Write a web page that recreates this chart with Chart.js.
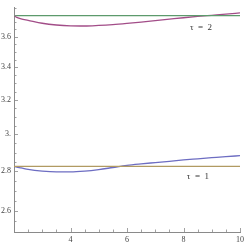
<!DOCTYPE html>
<html>
<head>
<meta charset="utf-8">
<script src="https://cdn.jsdelivr.net/npm/chart.js@4/dist/chart.umd.min.js"></script>
<style>
html,body{margin:0;padding:0;background:#fff;}
#wrap{width:247px;height:245px;position:relative;}
</style>
</head>
<body>
<div id="wrap"><canvas id="c" width="247" height="245"></canvas></div>
<script>
// ---- data ----
const xGrid     = [2, 2.1, 2.25, 2.5, 3, 3.5, 4, 4.5, 5, 5.5, 6, 6.5, 7, 7.5, 8, 8.5, 9, 9.5, 10];
const tau2Curve = [3.745, 3.733, 3.722, 3.712, 3.692, 3.680, 3.674, 3.673, 3.677, 3.683, 3.691, 3.700, 3.710, 3.720, 3.730, 3.739, 3.747, 3.755, 3.764];
const tau1Curve = [2.826, 2.822, 2.818, 2.810, 2.801, 2.797, 2.797, 2.801, 2.809, 2.820, 2.831, 2.839, 2.846, 2.853, 2.860, 2.866, 2.872, 2.878, 2.883];
const tau2Level = 3.745;
const tau1Level = 2.826;
const yMajorTicks = [2.6, 2.8, 3, 3.2, 3.4, 3.6];
const yMajorLabels = ["2.6", "2.8", "3.", "3.2", "3.4", "3.6"];
const xMajorTicks = [4, 6, 8, 10];
const xMajorLabels = ["4", "6", "8", "10"];
const curveLabels = [
  {text: "τ  =  2", x: 8.62, y: 3.665},
  {text: "τ  =  1", x: 8.51, y: 2.772}
];

const pts = (ys) => xGrid.map((x, i) => ({x: x, y: ys[i]}));
const flat = (v) => [{x: 2, y: v}, {x: 10, y: v}];

const axisColor = '#8a8a8a';
const labelFont = {family: '"Liberation Serif", "DejaVu Serif", serif', size: 8};

const tickPlugin = {
  id: 'innerTicks',
  afterDatasetsDraw(chart) {
    const ctx = chart.ctx;
    const xs = chart.scales.x, ys = chart.scales.y;
    const area = chart.chartArea;
    ctx.save();
    ctx.strokeStyle = axisColor;
    ctx.lineWidth = 0.8;
    xs.ticks.forEach(t => {
      const px = Math.round(xs.getPixelForValue(t.value)) + 0.5;
      const len = xMajorTicks.includes(t.value) ? 4 : 2.5;
      ctx.beginPath();
      ctx.moveTo(px, area.bottom);
      ctx.lineTo(px, area.bottom - len);
      ctx.stroke();
    });
    ys.ticks.forEach(t => {
      const py = Math.round(ys.getPixelForValue(t.value)) + 0.5;
      const len = yMajorTicks.some(v => Math.abs(v - t.value) < 1e-9) ? 4 : 2.5;
      ctx.beginPath();
      ctx.moveTo(area.left, py);
      ctx.lineTo(area.left + len, py);
      ctx.stroke();
    });
    // curve labels
    ctx.fillStyle = '#333';
    ctx.font = '9px "Liberation Serif", "DejaVu Serif", serif';
    ctx.textAlign = 'center';
    ctx.textBaseline = 'middle';
    curveLabels.forEach(l => {
      ctx.fillText(l.text, xs.getPixelForValue(l.x), ys.getPixelForValue(l.y));
    });
    ctx.restore();
  }
};

const lineDs = (data, color) => ({
  data: data, borderColor: color, borderWidth: 1.3, pointRadius: 0,
  fill: false, tension: 0.4, cubicInterpolationMode: 'monotone'
});

new Chart(document.getElementById('c'), {
  type: 'line',
  data: {
    datasets: [
      lineDs(flat(tau2Level), '#5c9a6c'),
      lineDs(pts(tau2Curve), '#a24d88'),
      lineDs(flat(tau1Level), '#b19a62'),
      lineDs(pts(tau1Curve), '#6d6dc2')
    ]
  },
  options: {
    responsive: false,
    animation: false,
    events: [],
    layout: {padding: {left: 0, right: 7, top: 0, bottom: 0}},
    plugins: {legend: {display: false}, tooltip: {enabled: false}},
    scales: {
      x: {
        type: 'linear', min: 2, max: 10,
        afterBuildTicks(scale) {
          const t = [];
          for (let v = 2; v <= 10.001; v += 0.5) t.push({value: Math.round(v * 10) / 10});
          scale.ticks = t;
        },
        afterFit(scale) { scale.height = 13; },
        grid: {display: false, drawTicks: false},
        border: {display: true, color: axisColor, width: 1},
        ticks: {
          autoSkip: false, maxRotation: 0, padding: 3, color: '#444', font: labelFont,
          callback(value) {
            const i = xMajorTicks.indexOf(value);
            return i >= 0 ? xMajorLabels[i] : '';
          }
        }
      },
      y: {
        type: 'logarithmic', min: 2.5, max: 3.8,
        afterBuildTicks(scale) {
          const t = [];
          for (let k = 50; k <= 76; k++) t.push({value: k / 20});
          scale.ticks = t;
        },
        afterFit(scale) { scale.width = 14; },
        grid: {display: false, drawTicks: false},
        border: {display: true, color: axisColor, width: 1},
        ticks: {
          autoSkip: false, padding: 3, color: '#444', font: labelFont,
          callback(value) {
            const i = yMajorTicks.findIndex(v => Math.abs(v - value) < 1e-9);
            return i >= 0 ? yMajorLabels[i] : '';
          }
        }
      }
    }
  },
  plugins: [tickPlugin]
});
</script>
</body>
</html>
